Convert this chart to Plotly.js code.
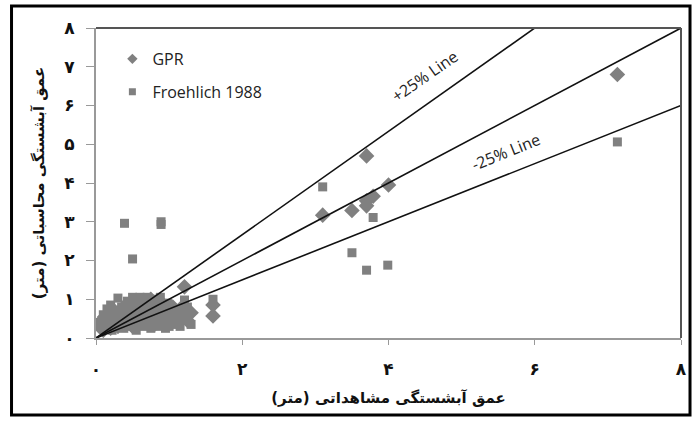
<!DOCTYPE html>
<html>
<head>
<meta charset="utf-8">
<script src="https://cdn.plot.ly/plotly-3.0.1.min.js"></script>
<style>body{margin:0;padding:0;background:#fff;}#chart{width:697px;height:421px;}</style>
</head>
<body>
<div id="chart"></div>
<script>
// GPR (diamonds): observed depth (m), computed depth (m)
const gprX = [0.05,0.08,0.10,0.12,0.15,0.18,0.20,0.22,0.25,0.28,0.30,0.33,0.35,0.38,0.40,0.42,0.45,0.48,0.50,0.52,0.55,0.58,0.60,0.63,0.66,0.70,0.72,0.75,0.78,0.80,0.83,0.86,0.90,0.93,0.96,1.00,1.05,1.10,1.15,1.20,1.25,1.30,1.21,1.60,1.60,
  3.10,3.50,3.70,3.70,3.79,4.00,3.70,7.13];
const gprY = [0.30,0.45,0.20,0.55,0.35,0.60,0.25,0.50,0.70,0.40,0.30,0.60,0.50,0.80,0.35,0.65,0.45,0.90,0.30,0.70,0.55,0.95,0.40,0.75,0.60,0.85,0.45,1.00,0.65,0.35,0.80,0.55,0.90,0.70,0.40,0.60,0.80,0.50,0.75,0.60,0.45,0.65,1.32,0.85,0.57,
  3.17,3.29,3.41,3.54,3.66,3.95,4.70,6.80];
// Froehlich 1988 (squares)
const froX = [0.05,0.10,0.12,0.15,0.18,0.20,0.22,0.25,0.28,0.30,0.32,0.35,0.38,0.40,0.43,0.45,0.48,0.50,0.52,0.55,0.58,0.60,0.62,0.65,0.68,0.70,0.72,0.75,0.78,0.80,0.82,0.85,0.88,0.90,0.93,0.95,0.98,1.00,1.05,1.08,1.12,1.15,1.20,1.21,1.25,1.30,1.60,
  0.39,0.89,0.89,0.50,3.10,3.79,3.50,3.70,3.99,7.13];
const froY = [0.40,0.60,0.30,0.75,0.50,0.85,0.20,0.55,0.65,1.03,0.40,0.80,0.25,0.60,0.95,0.30,0.75,1.05,0.50,0.20,0.85,1.05,0.60,0.30,0.95,1.05,0.70,0.25,0.85,1.00,0.50,0.30,1.05,0.75,0.50,0.25,0.90,0.30,0.55,0.35,0.70,0.30,0.50,0.98,0.80,0.35,1.00,
  2.96,3.00,2.93,2.04,3.90,3.11,2.20,1.75,1.88,5.06];
// Reference lines: y = k * x
const lineX = [0, 8];
const slopeUpper = 4/3, slopeEqual = 1, slopeLower = 0.75;
const xTickVals = [0,2,4,6,8];
const xTickText = ['۰','۲','۴','۶','۸'];
const yTickVals = [0,1,2,3,4,5,6,7,8];
const yTickText = ['۰','۱','۲','۳','۴','۵','۶','۷','۸'];

const lineStyle = {color:'#111', width:1.6};
const data = [
  {x: gprX, y: gprY, mode:'markers', name:'GPR', legendgroup:'a', showlegend:false, marker:{symbol:'diamond', size:12, color:'#808080'}},
  {x: froX, y: froY, mode:'markers', name:'Froehlich 1988', legendgroup:'b', showlegend:false, marker:{symbol:'square', size:9, color:'#808080'}},
  {x: lineX, y: lineX.map(v=>v*slopeUpper), mode:'lines', line: lineStyle, showlegend:false, hoverinfo:'skip'},
  {x: lineX, y: lineX.map(v=>v*slopeEqual), mode:'lines', line: lineStyle, showlegend:false, hoverinfo:'skip'},
  {x: lineX, y: lineX.map(v=>v*slopeLower), mode:'lines', line: lineStyle, showlegend:false, hoverinfo:'skip'},
  // legend entries (small symbols, as in the original legend)
  {x:[null], y:[null], mode:'markers', name:'GPR', legendgroup:'a', marker:{symbol:'diamond', size:8, color:'#808080'}},
  {x:[null], y:[null], mode:'markers', name:'Froehlich 1988', legendgroup:'b', marker:{symbol:'square', size:7, color:'#808080'}}
];

const fontFa = 'DejaVu Sans';
const layout = {
  width:697, height:421,
  margin:{l:96, r:16, t:28, b:83},
  paper_bgcolor:'#fff', plot_bgcolor:'#fff',
  showlegend:true,
  legend:{x:0.028, y:0.955, xanchor:'left', yanchor:'top', bgcolor:'rgba(0,0,0,0)',
    font:{family:'Open Sans', size:16, color:'#222'}, tracegroupgap:9},
  xaxis:{range:[0,8], tickvals:xTickVals, ticktext:xTickText, showgrid:false, zeroline:false,
    showline:true, linecolor:'#999', linewidth:2, mirror:false,
    ticks:'outside', ticklen:5, tickcolor:'#999', ticklabelstandoff:10,
    tickfont:{family:fontFa, size:17, color:'#111', weight:'bold'},
    title:{text:'عمق آبشستگی مشاهداتی (متر)', font:{family:fontFa, size:15, color:'#111', weight:'bold'}, standoff:14}},
  yaxis:{range:[0,8], tickvals:yTickVals, ticktext:yTickText, showgrid:false, zeroline:false,
    showline:true, linecolor:'#999', linewidth:2, mirror:false,
    ticks:'outside', ticklen:8, tickcolor:'#999', ticklabelstandoff:8,
    tickfont:{family:fontFa, size:17, color:'#111', weight:'bold'},
    title:{text:'عمق آبشستگی محاسباتی (متر)', font:{family:fontFa, size:15, color:'#111', weight:'bold'}, standoff:16}},
  shapes:[
    {type:'line', xref:'paper', yref:'paper', x0:0, x1:1, y0:1, y1:1, line:{color:'#555', width:2}},
    {type:'line', xref:'paper', yref:'paper', x0:1, x1:1, y0:0, y1:1, line:{color:'#555', width:2}},
    {type:'rect', xref:'paper', yref:'paper', x0:-0.1444, x1:1.0154, y0:-0.2484, y1:1.071, line:{color:'#000', width:3}}
  ],
  annotations:[
    {x:4.5, y:6.75, xref:'x', yref:'y', text:'+25% Line', showarrow:false, textangle:-35,
      font:{family:'Open Sans', size:16, color:'#222'}},
    {x:5.6, y:4.8, xref:'x', yref:'y', text:'-25% Line', showarrow:false, textangle:-22,
      font:{family:'Open Sans', size:16, color:'#222'}}
  ]
};
Plotly.newPlot('chart', data, layout, {displayModeBar:false, staticPlot:true});
</script>
</body>
</html>
